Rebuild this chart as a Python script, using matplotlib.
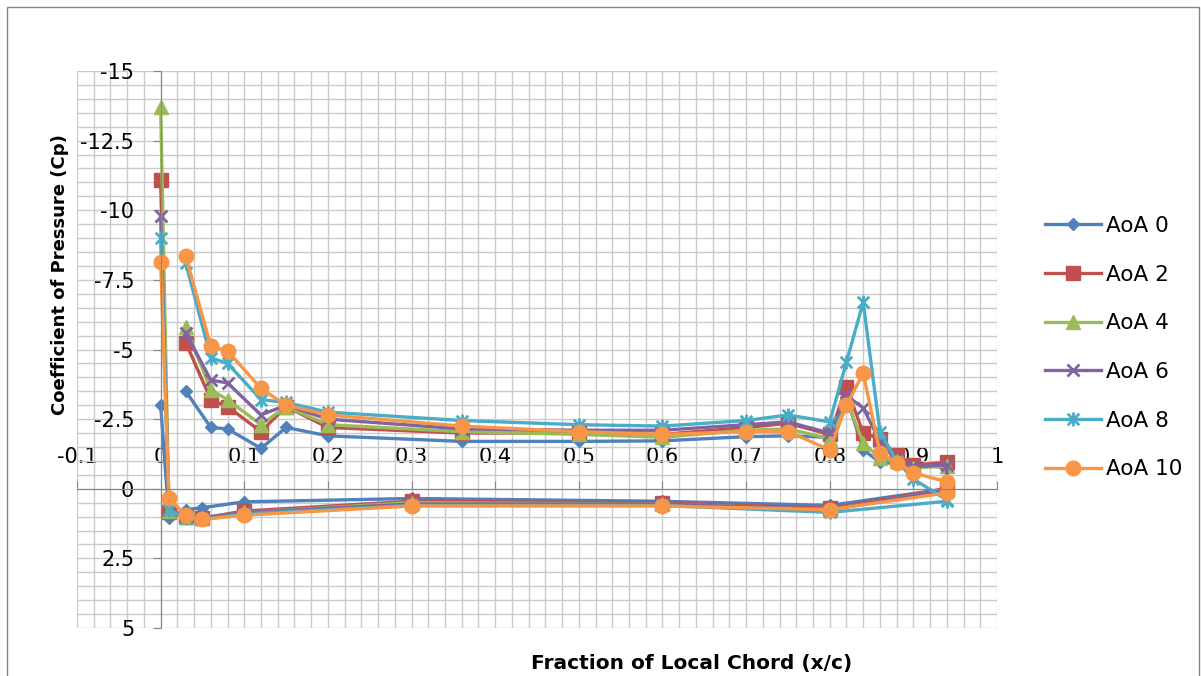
import matplotlib
matplotlib.use('Agg')
import matplotlib.pyplot as plt
from matplotlib.patches import Rectangle
from matplotlib.path import Path
from matplotlib.ticker import MultipleLocator, FuncFormatter

plt.rcParams['axes.unicode_minus'] = False

# x/c positions: leading edge, lower surface to trailing edge, then upper surface back
x_lower = [0, 0.01, 0.03, 0.05, 0.1, 0.3, 0.6, 0.8, 0.94]
x_upper = [0.94, 0.9, 0.88, 0.86, 0.84, 0.82, 0.8, 0.75, 0.7, 0.6, 0.5,
           0.36, 0.2, 0.15, 0.12, 0.08, 0.06, 0.03]
x_pos = x_lower + x_upper

labels = ['AoA 0', 'AoA 2', 'AoA 4', 'AoA 6', 'AoA 8', 'AoA 10']

cp_aoa0 = [-3.0, 1.05, 0.75, 0.68, 0.47, 0.35, 0.45, 0.6, 0.0,
           -0.75, -0.9, -0.9, -0.95, -1.4, -3.3, -1.85, -1.9, -1.87, -1.72, -1.7,
           -1.7, -1.9, -2.2, -1.45, -2.15, -2.2, -3.5]
cp_aoa2 = [-11.1, 0.85, 1.0, 1.05, 0.8, 0.45, 0.5, 0.7, 0.0,
           -0.95, -0.85, -1.2, -1.8, -2.0, -3.65, -1.95, -2.35, -2.2, -1.95, -2.0,
           -2.0, -2.2, -2.95, -2.05, -2.95, -3.2, -5.25]
cp_aoa4 = [-13.7, 0.8, 1.0, 1.05, 0.85, 0.5, 0.55, 0.75, 0.05,
           -0.8, -0.75, -1.0, -1.1, -1.65, -3.2, -1.8, -2.15, -2.1, -1.85, -1.95,
           -2.05, -2.3, -2.95, -2.3, -3.2, -3.55, -5.8]
cp_aoa6 = [-9.8, 0.75, 1.0, 1.05, 0.85, 0.55, 0.55, 0.75, 0.05,
           -0.85, -0.8, -1.0, -1.7, -2.9, -3.35, -2.0, -2.4, -2.3, -2.1, -2.1,
           -2.15, -2.5, -3.0, -2.65, -3.8, -3.9, -5.6]
cp_aoa8 = [-9.0, 0.75, 1.05, 1.1, 0.9, 0.6, 0.6, 0.85, 0.45,
           0.4, -0.35, -1.0, -2.05, -6.7, -4.55, -2.4, -2.65, -2.45, -2.25, -2.3,
           -2.45, -2.75, -3.1, -3.2, -4.5, -4.7, -8.1]
cp_aoa10 = [-8.15, 0.35, 0.95, 1.1, 0.95, 0.62, 0.62, 0.75, 0.15,
            -0.25, -0.57, -0.93, -1.3, -4.15, -3.0, -1.4, -2.05, -2.05, -1.95, -2.05,
            -2.25, -2.65, -3.0, -3.6, -4.95, -5.12, -8.35]
series = [cp_aoa0, cp_aoa2, cp_aoa4, cp_aoa6, cp_aoa8, cp_aoa10]

colors = ['#4F81BD', '#C0504D', '#9BBB59', '#8064A2', '#4BACC6', '#F79646']

# Excel-style star marker: an x with a vertical bar
star = Path([(-0.5, -0.5), (0.5, 0.5), (-0.5, 0.5), (0.5, -0.5), (0, -0.6), (0, 0.6)],
            [Path.MOVETO, Path.LINETO, Path.MOVETO, Path.LINETO, Path.MOVETO, Path.LINETO])
markers = ['D', 's', '^', 'x', star, 'o']
msizes = [6.5, 9.5, 10.5, 9, 10, 10.5]

fig = plt.figure(figsize=(12.01, 6.76), dpi=100)
ax = fig.add_axes([77 / 1201, 1 - 628 / 676, (997 - 77) / 1201, (628 - 71) / 676])

for cp, lab, c, m, ms in zip(series, labels, colors, markers, msizes):
    kw = dict(color=c, lw=2.4, marker=m, markersize=ms, label=lab)
    if m in ('x',) or m is star:
        kw.update(markeredgewidth=2, markerfacecolor='none')
    ax.plot(x_pos, cp, **kw)

ax.set_xlim(-0.1, 1)
ax.set_ylim(5, -15)

ax.xaxis.set_major_locator(MultipleLocator(0.1))
ax.xaxis.set_minor_locator(MultipleLocator(0.02))
ax.yaxis.set_major_locator(MultipleLocator(2.5))
ax.yaxis.set_minor_locator(MultipleLocator(0.5))
ax.xaxis.set_major_formatter(FuncFormatter(lambda v, p: f'{round(v, 2):g}'))
ax.yaxis.set_major_formatter(FuncFormatter(lambda v, p: f'{round(v, 2):g}'))

ax.grid(which='both', color='#CBCBCB', lw=1)
ax.set_axisbelow(True)

for s in ['bottom', 'right']:
    ax.spines[s].set_visible(False)
ax.spines['left'].set_position(('data', 0))
ax.spines['top'].set_position(('data', 0))
ax.spines['left'].set_color('#868686')
ax.spines['top'].set_color('#868686')
ax.xaxis.set_ticks_position('top')
ax.yaxis.set_ticks_position('left')
ax.tick_params(which='major', length=6, color='#868686', labelsize=15)
ax.tick_params(which='minor', length=0)
ax.tick_params(axis='x', pad=10)
ax.tick_params(axis='y', pad=13)

leg = ax.legend(loc='upper left', bbox_to_anchor=(1045 / 1201, 1 - 216 / 676),
                bbox_transform=fig.transFigure, frameon=False, fontsize=15.5,
                handlelength=2.6, handletextpad=0.25, labelspacing=1.33,
                borderpad=0, borderaxespad=0)

fig.text(692 / 1201, 1 - 664 / 676, 'Fraction of Local Chord (x/c)',
         ha='center', va='center', fontsize=14.5, fontweight='bold')
fig.text(60 / 1201, 1 - 275 / 676, 'Coefficient of Pressure (Cp)',
         ha='center', va='center', rotation=90, fontsize=13, fontweight='bold')

fig.patches.append(Rectangle((7 / 1201, -0.05), 1192 / 1201, 1.05 - 7 / 676,
                             transform=fig.transFigure, fill=False,
                             edgecolor='#868686', lw=1))

plt.savefig('out.png', dpi=100)
